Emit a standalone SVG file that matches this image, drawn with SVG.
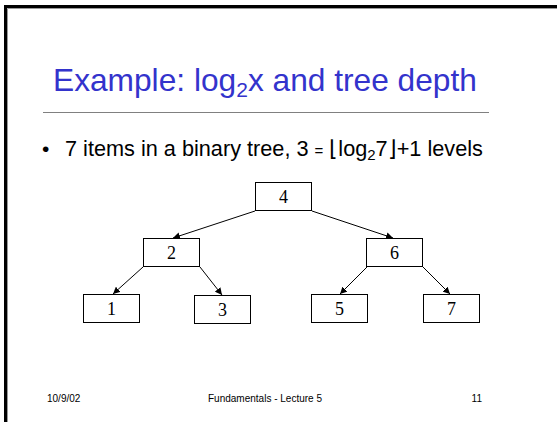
<svg xmlns="http://www.w3.org/2000/svg" width="557" height="422" viewBox="0 0 557 422">
  <style>
    .node rect { fill: #ffffff; stroke: #000000; stroke-width: 1; }
    .node text { font-family: "Liberation Serif", "Times New Roman", serif; font-size: 18px; fill: #000000; text-anchor: middle; }
    .edge { stroke: #000000; stroke-width: 1; fill: none; marker-end: url(#arrow); }
    .sans { font-family: "Liberation Sans", Arial, sans-serif; }
  </style>
  <defs>
    <marker id="arrow" viewBox="0 0 10 10" refX="10" refY="5" markerWidth="7" markerHeight="7" markerUnits="userSpaceOnUse" orient="auto">
      <path d="M0,0 L10,5 L0,10 z" fill="#000000"/>
    </marker>
  </defs>

  <rect x="0" y="0" width="557" height="422" fill="#ffffff"/>

  <!-- slide frame: left and top edges -->
  <path d="M5.5,422 V6.5 H557" fill="none" stroke="#000000" stroke-width="3"/>
  <path d="M7.5,422 V8.5 H557" fill="none" stroke="#999999" stroke-width="1"/>

  <!-- title -->
  <text class="sans" x="53" y="91" font-size="31.7" fill="#3333cc">Example: log<tspan font-size="21" dy="6">2</tspan><tspan dy="-6">x and tree depth</tspan></text>
  <line x1="43" y1="112.5" x2="489" y2="112.5" stroke="#808080" stroke-width="1.2"/>

  <!-- bullet -->
  <text class="sans" x="42" y="156" font-size="21" fill="#000000">•</text>
  <text class="sans" x="65" y="156" font-size="21.7" fill="#000000">7 items in a binary tree, 3 <tspan font-size="15">=</tspan> ⌊log<tspan font-size="15" dy="4">2</tspan><tspan dy="-4">7⌋+1 levels</tspan></text>

  <!-- connectors -->
  <g id="edges">
    <line class="edge" x1="255" y1="211" x2="173" y2="238"/>
    <line class="edge" x1="312" y1="211" x2="393" y2="238"/>
    <line class="edge" x1="143" y1="267" x2="113" y2="294"/>
    <line class="edge" x1="200" y1="267" x2="222" y2="295"/>
    <line class="edge" x1="367" y1="267" x2="340" y2="294"/>
    <line class="edge" x1="423" y1="267" x2="450" y2="294"/>
  </g>

  <!-- tree nodes -->
  <g id="n4" class="node"><rect x="255.5" y="182.5" width="56" height="28"/><text x="283.5" y="203">4</text></g>
  <g id="n2" class="node"><rect x="143.5" y="238.5" width="56" height="28"/><text x="171.5" y="259">2</text></g>
  <g id="n6" class="node"><rect x="366.5" y="238.5" width="56" height="28"/><text x="394.5" y="259">6</text></g>
  <g id="n1" class="node"><rect x="83.5" y="294.5" width="56" height="28"/><text x="111.5" y="315">1</text></g>
  <g id="n3" class="node"><rect x="194.5" y="295.5" width="56" height="28"/><text x="222.5" y="316">3</text></g>
  <g id="n5" class="node"><rect x="311.5" y="294.5" width="56" height="28"/><text x="339.5" y="315">5</text></g>
  <g id="n7" class="node"><rect x="423.5" y="294.5" width="56" height="28"/><text x="451.5" y="315">7</text></g>

  <!-- footer -->
  <text class="sans" x="47" y="402" font-size="10" fill="#000000">10/9/02</text>
  <text class="sans" x="265" y="402" font-size="10" fill="#000000" text-anchor="middle">Fundamentals - Lecture 5</text>
  <text class="sans" x="482" y="402" font-size="10" fill="#000000" text-anchor="end">11</text>
</svg>
